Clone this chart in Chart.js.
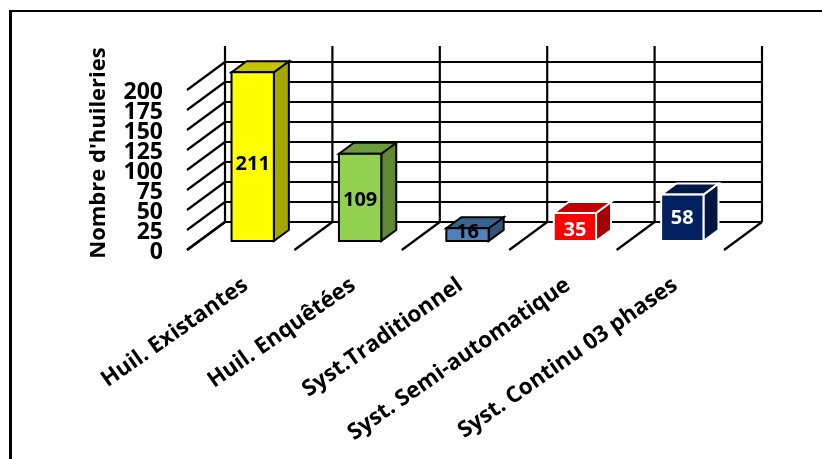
<!DOCTYPE html>
<html>
<head>
<meta charset="utf-8">
<script src="https://cdn.jsdelivr.net/npm/chart.js@4"></script>
<style>
  html, body { margin: 0; background: #fff; }
  #wrap { position: relative; width: 822px; height: 459px; overflow: hidden; }
  #cadre { position: absolute; left: 9px; top: 10px; width: 900px; height: 600px; border-top: 2px solid #000; border-left: 3px solid #000; }
  canvas { position: absolute; left: 0; top: 0; }
</style>
</head>
<body>
<div id="wrap">
  <div id="cadre"></div>
  <canvas id="grafico" width="822" height="459"></canvas>
</div>
<script>
const categorias = ["Huil. Existantes", "Huil. Enquêtées", "Syst.Traditionnel", "Syst. Semi-automatique", "Syst. Continu 03 phases"];
const huileries = [211, 109, 16, 35, 58];
const ticksY = [0, 25, 50, 75, 100, 125, 150, 175, 200];
const tituloY = "Nombre d'huileries";

const frente = ["#ffff00", "#92d050", "#4f81bd", "#ff0000", "#002060"];
const topo = ["#c4c400", "#6d9c3c", "#3b618e", "#bf0000", "#001848"];
const lado = ["#a6a600", "#5f8734", "#335478", "#a60000", "#001540"];
const contorno = ["#000", "#000", "#000", "#fff", "#fff"];
const corTexto = ["#000", "#000", "#000", "#fff", "#fff"];
const ajusteRotulo = [8, 3, -2, 3, 0];

const fonte = "'Open Sans', sans-serif";

// profundidade da caixa e recuo das paredes em relação ao plano das barras
const prof = { x: 15, y: -11 };
const fundo = { x: 26, y: -19 };
const chao = { x: -12, y: 9 };

function linha(ctx, x1, y1, x2, y2) {
  ctx.beginPath();
  ctx.moveTo(x1, y1);
  ctx.lineTo(x2, y2);
  ctx.stroke();
}

function face(ctx, pts, cor, borda) {
  ctx.beginPath();
  pts.forEach((p, i) => i ? ctx.lineTo(p[0], p[1]) : ctx.moveTo(p[0], p[1]));
  ctx.closePath();
  ctx.fillStyle = cor;
  ctx.fill();
  ctx.strokeStyle = borda;
  ctx.lineWidth = 2;
  ctx.stroke();
}

// grade em perspectiva e lados das barras
const caixa3d = {
  id: "caixa3d",
  beforeDatasetsDraw(chart) {
    const { ctx, chartArea, scales: { x, y } } = chart;
    const passo = x.getPixelForValue(1) - x.getPixelForValue(0);
    const esq = chartArea.left + fundo.x;
    const dir = esq + passo * categorias.length;
    ctx.save();
    ctx.strokeStyle = "#000";
    ctx.lineWidth = 2.2;
    ticksY.forEach(v => {
      const py = y.getPixelForValue(v) + fundo.y;
      linha(ctx, esq, py, dir, py);
      linha(ctx, esq, py, esq - fundo.x + chao.x, py - fundo.y + chao.y);
    });
    const base = y.getPixelForValue(0) + fundo.y;
    for (let i = 0; i <= categorias.length; i++) {
      const px = esq + passo * i;
      linha(ctx, px, chartArea.top + fundo.y, px, base);
      linha(ctx, px, base, px - fundo.x + chao.x, base - fundo.y + chao.y);
    }
    chart.getDatasetMeta(0).data.forEach((bar, i) => {
      const l = bar.x - bar.width / 2, r = bar.x + bar.width / 2;
      const t = bar.y, b = bar.base;
      face(ctx, [[r, t], [r + prof.x, t + prof.y], [r + prof.x, b + prof.y], [r, b]], lado[i], contorno[i]);
      face(ctx, [[l, t], [l + prof.x, t + prof.y], [r + prof.x, t + prof.y], [r, t]], topo[i], contorno[i]);
    });
    ctx.restore();
  },
  // contorno da face da frente e valores
  afterDatasetsDraw(chart) {
    const { ctx } = chart;
    ctx.save();
    ctx.font = "bold 20px " + fonte;
    ctx.textAlign = "center";
    ctx.textBaseline = "middle";
    ctx.lineWidth = 2;
    chart.getDatasetMeta(0).data.forEach((bar, i) => {
      ctx.strokeStyle = contorno[i];
      ctx.strokeRect(bar.x - bar.width / 2, bar.y, bar.width, bar.base - bar.y);
      ctx.fillStyle = corTexto[i];
      ctx.fillText(huileries[i], bar.x, (bar.y + bar.base) / 2 + ajusteRotulo[i]);
    });
    ctx.restore();
  }
};

new Chart(document.getElementById("grafico"), {
  type: "bar",
  data: {
    labels: categorias,
    datasets: [{
      data: huileries,
      backgroundColor: frente,
      borderWidth: 0,
      barPercentage: 0.394,
      categoryPercentage: 1
    }]
  },
  options: {
    responsive: false,
    animation: false,
    layout: { padding: { top: 65, right: 86, left: 0, bottom: 0 } },
    plugins: { legend: { display: false }, tooltip: { enabled: false } },
    scales: {
      x: {
        grid: { display: false, drawTicks: false },
        border: { display: false },
        afterFit(s) { s.height = 218; s.paddingLeft = 0; s.paddingRight = 0; },
        ticks: {
          autoSkip: false,
          minRotation: 35,
          maxRotation: 35,
          padding: 31,
          labelOffset: -7,
          color: "#000",
          font: { family: fonte, weight: "bold", size: 22.4 }
        }
      },
      y: {
        min: 0,
        max: 220,
        grid: { display: false, drawTicks: false },
        border: { display: false },
        afterBuildTicks(s) { s.ticks = ticksY.map(v => ({ value: v })); },
        afterFit(s) { s.width = 199; },
        title: {
          display: true,
          text: tituloY,
          color: "#000",
          padding: { top: 86, bottom: 0 },
          font: { family: fonte, weight: "bold", size: 22 }
        },
        ticks: {
          autoSkip: false,
          padding: 36,
          labelOffset: 11,
          color: "#000",
          font: { family: fonte, weight: "bold", size: 23 }
        }
      }
    }
  },
  plugins: [caixa3d]
});
</script>
</body>
</html>
